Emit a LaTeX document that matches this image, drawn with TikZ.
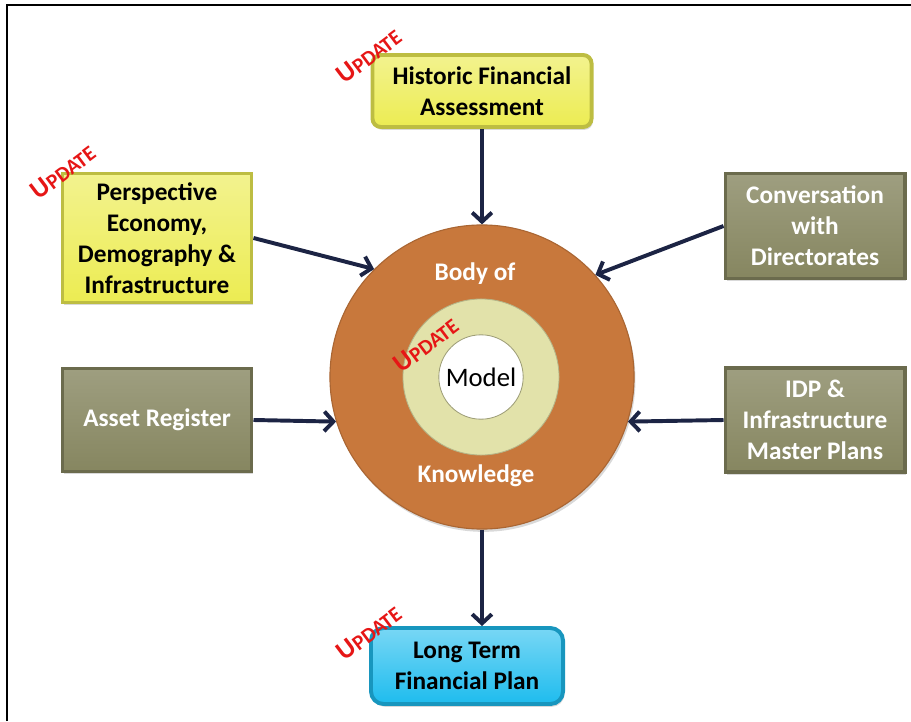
\documentclass[tikz,border=0pt]{standalone}
\usepackage{fontspec}
\setmainfont{Carlito}
\usetikzlibrary{arrows.meta,shadows}
\definecolor{boxyellow}{RGB}{236,236,82}
\definecolor{boxolive}{RGB}{134,134,96}
\definecolor{boxcyan}{RGB}{30,188,238}
\definecolor{ringorange}{RGB}{200,120,60}
\definecolor{ringcream}{RGB}{226,226,170}
\definecolor{arrownavy}{RGB}{28,36,68}
\definecolor{updred}{RGB}{230,22,22}
\tikzset{
    box/.style = {align=center, inner sep=2pt, font=\fontsize{18}{22}\selectfont\bfseries,
        drop shadow={opacity=0.3, shadow xshift=1pt, shadow yshift=-2pt}},
    box_yellow/.style = {box, top color=boxyellow!65!white, bottom color=boxyellow, draw=boxyellow!80!black, text=black},
    box_olive/.style = {box, top color=boxolive!80!white, bottom color=boxolive, draw=boxolive!80!black, text=white},
    box_cyan/.style = {box, top color=boxcyan!60!white, bottom color=boxcyan, draw=boxcyan!80!black, text=black, rounded corners=9pt},
    ring_text/.style = {font=\fontsize{18}{22}\selectfont\bfseries, text=white},
    update/.style = {text=updred, rotate=37, inner sep=0pt, font=\fontsize{19}{19}\selectfont\bfseries}
}
\newcommand{\updlabel}{U{\fontsize{15}{15}\selectfont PDATE}}

\begin{document}
\begin{tikzpicture}[x=0.025cm, y=-0.025cm, line width=2.8pt, >={Straight Barb[length=6.5pt, width=14pt]}]
    \useasboundingbox (0,0) rectangle (911,721);
    \draw[line width=1.2pt] (7,721) -- (7,5) -- (911,5); % frame

    % centre rings
    \node [circle, minimum size=7.6cm, fill=ringorange, draw=ringorange!85!black, line width=0.8pt,
        drop shadow={opacity=0.3, shadow xshift=1pt, shadow yshift=-2pt}] (ring) at (482,377) {};
    \node [circle, minimum size=3.9cm, fill=ringcream, draw=ringcream!80!black, line width=0.6pt] (inner) at (481,377) {};
    \node [circle, minimum size=1.9cm, fill=white, draw=ringcream!70!black, line width=0.6pt,
        font=\fontsize{19}{22}\selectfont] (hole) at (481,377) {Model};
    \node [ring_text] (body) at (475,274) {Body of};
    \node [ring_text] (know) at (476,476) {Knowledge};

    % boxes
    \node [box_yellow, rounded corners=6pt, minimum width=5.475cm, minimum height=1.8cm] (hist) at (482,91) {Historic Financial\\Assessment};
    \node [box_yellow, minimum width=4.725cm, minimum height=3.225cm] (persp) at (157,238) {Perspective\\Economy,\\Demography \&\\Infrastructure};
    \node [box_olive, minimum width=4.475cm, minimum height=2.625cm] (conv) at (815,226) {Conversation\\with\\Directorates};
    \node [box_olive, minimum width=4.725cm, minimum height=2.575cm] (asset) at (157,420) {Asset Register};
    \node [box_olive, minimum width=4.475cm, minimum height=2.6cm] (idp) at (815,420) {IDP \&\\Infrastructure\\Master Plans};
    \node [box_cyan, minimum width=4.8cm, minimum height=1.9cm] (ltfp) at (467,666) {Long Term\\Financial Plan};

    % update labels
    \node [update] (upd_hist) at (369,56) {\updlabel};
    \node [update] (upd_persp) at (63,172) {\updlabel};
    \node [update] (upd_model) at (426,345) {\updlabel};
    \node [update] (upd_ltfp) at (369,633) {\updlabel};

    % arrows
    \draw [->, arrownavy] (hist.south) -- (ring.north);
    \draw [->, arrownavy] (persp.east) -- (ring.135);
    \draw [->, arrownavy] (conv.west) -- (ring.42);
    \draw [->, arrownavy] (asset.east) -- (ring.197);
    \draw [->, arrownavy] (idp.west) -- (ring.343);
    \draw [->, arrownavy] (ring.south) -- (ring.south |- ltfp.north);
\end{tikzpicture}
\end{document}
